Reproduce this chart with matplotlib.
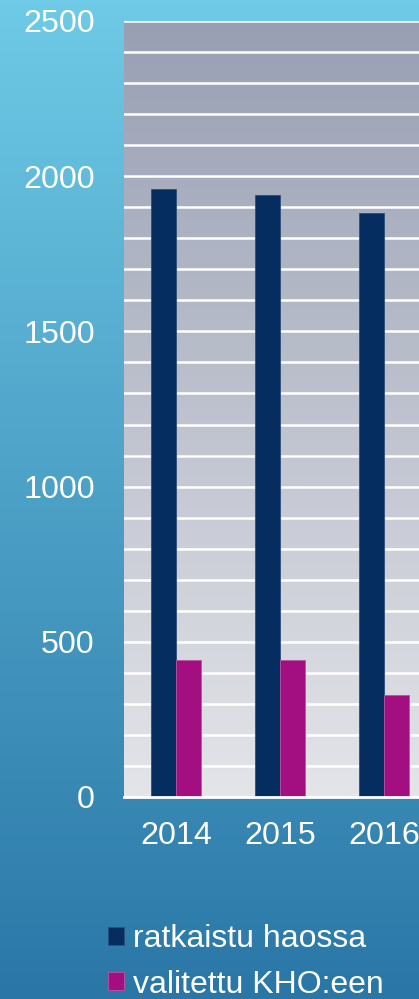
import numpy as np
import matplotlib.pyplot as plt
from matplotlib.colors import LinearSegmentedColormap

plt.rcParams['font.family'] = ['Liberation Sans', 'DejaVu Sans']

years = ['2014', '2015', '2016']
ratkaistu = [1960, 1940, 1880]
valitettu = [440, 442, 328]
labels = ['ratkaistu haossa', 'valitettu KHO:een']
colors = ['#052d5f', '#a30e80']

fig = plt.figure(figsize=(4.19, 9.99), dpi=100)

# figure background gradient
bg = fig.add_axes([0, 0, 1, 1], zorder=-1)
bg_cmap = LinearSegmentedColormap.from_list('bg', ['#2a77a7', '#6ecae6'])
bg.imshow(np.linspace(0, 1, 256).reshape(-1, 1), cmap=bg_cmap, aspect='auto',
          extent=[0, 1, 0, 1], origin='lower')
bg.axis('off')

ax = fig.add_axes([124 / 419, 202 / 999, 312 / 419, 776 / 999])
ax.patch.set_alpha(0)
plot_cmap = LinearSegmentedColormap.from_list('pa', ['#e4e5e9', '#989fb3'])
ax.imshow(np.linspace(0, 1, 256).reshape(-1, 1), cmap=plot_cmap, aspect='auto',
          extent=[-0.5, 2.5, 0, 2500], origin='lower', zorder=0)

x = np.arange(len(years))
w = 0.24
b1 = ax.bar(x - w / 2, ratkaistu, w, color=colors[0], edgecolor='#2c4f7c',
            linewidth=0.6, zorder=3, label=labels[0])
b2 = ax.bar(x + w / 2, valitettu, w, color=colors[1], edgecolor='#b9559f',
            linewidth=0.6, zorder=3, label=labels[1])

ax.set_xlim(-0.5, 2.5)
ax.set_ylim(0, 2500)
ax.set_yticks(np.arange(0, 2501, 500))
ax.set_yticks(np.arange(0, 2501, 100), minor=True)
ax.grid(True, which='both', axis='y', color='white', linewidth=1.8, zorder=1)
ax.set_axisbelow(True)
ax.set_xticks(x)
ax.set_xticklabels(years)
ax.tick_params(axis='y', which='both', length=0, pad=21, labelsize=23.2, labelcolor='white')
ax.tick_params(axis='x', length=0, pad=17, labelsize=23.2, labelcolor='white')
for s in ['top', 'right', 'left']:
    ax.spines[s].set_visible(False)
ax.spines['bottom'].set_color('white')
ax.spines['bottom'].set_linewidth(2)
ax.spines['bottom'].set_zorder(4)

fig.legend(handles=[b1, b2], loc='upper left', bbox_to_anchor=(108 / 419, 1 - 924 / 999),
           frameon=False, fontsize=23, labelcolor='white', handlelength=0.5,
           handleheight=0.5, handletextpad=0.28, labelspacing=0.49,
           borderpad=0, borderaxespad=0)

fig.savefig('out.png', dpi=100)
